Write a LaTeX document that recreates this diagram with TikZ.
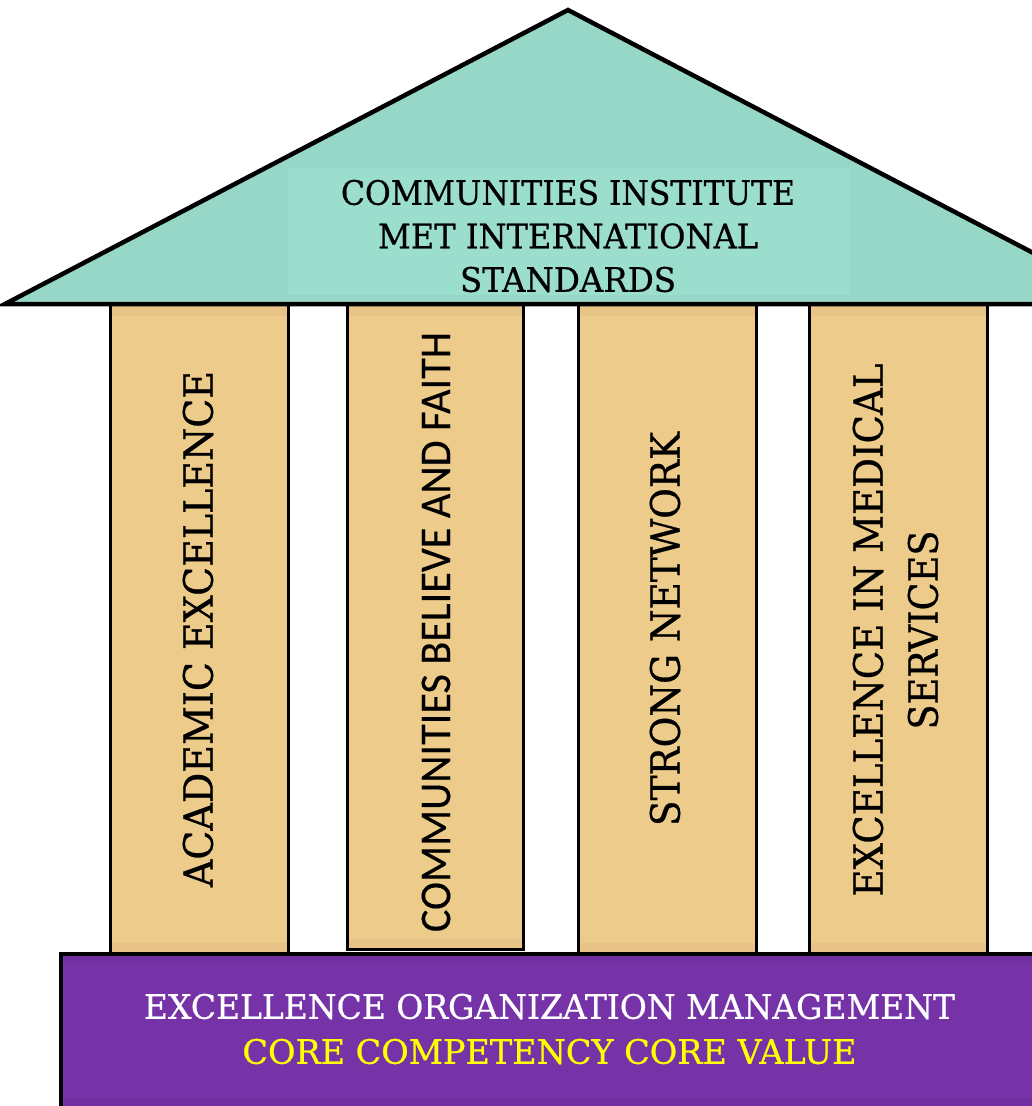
\documentclass[tikz,border=0pt]{standalone}
\usepackage{fontspec}
\setmainfont{DejaVu Serif}[FakeBold=0.7]
\newfontfamily\calibfont{Carlito}[FakeBold=0.3]
\usepackage{graphicx}
\definecolor{roofc}{HTML}{97D7C7}
\definecolor{roofl}{HTML}{9BDECD}
\definecolor{pillc}{HTML}{EDCB8A}
\definecolor{pillb}{HTML}{E8C388}
\definecolor{basec}{HTML}{7633A8}
\definecolor{baseb}{HTML}{7030A0}
\definecolor{yel}{HTML}{FFFF00}
\newcommand{\fitl}[3]{\resizebox{#1pt}{#2pt}{#3}}
\tikzset{
  pillar/.style={fill=pillc, draw=black, line width=3pt},
  band/.style={fill=pillb, draw=none},
  roof/.style={fill=roofc, draw=black, line width=4.5pt, line join=miter},
  basebox/.style={fill=basec, draw=black, line width=4.5pt},
  ptext/.style={rotate=90, inner sep=0pt, anchor=center},
}
\begin{document}
\begin{tikzpicture}[x=1pt,y=-1pt]
\useasboundingbox (0,0) rectangle (1032,1106);
\clip (0,0) rectangle (1032,1106);
% pillars
\foreach \l/\r/\b in {110/288/953, 347/523/949, 578/756/953, 809/987/953}{
  \fill[pillc] (\l,304) rectangle (\r,\b);
  \fill[pillb] (\l+1.5,306) rectangle (\r-1.5,316);
  \fill[pillb] (\l+1.5,\b-10) rectangle (\r-1.5,\b);
  \draw[line width=3pt] (\l,304) -- (\l,\b);
  \draw[line width=3pt] (\r,304) -- (\r,\b);
}
\draw[line width=3pt] (345.5,949) -- (524.5,949);
% base
\draw[basebox] (61,954) rectangle (1045,1120);
\fill[baseb] (63.5,956.5) rectangle (1040,963);
\fill[baseb] (63.5,1098) rectangle (1040,1106);
% roof
\draw[roof] (5,304) -- (568,10) -- (1131,304) -- cycle;
\fill[roofl] (288,168) rectangle (849,295);
% texts
\node[inner sep=0pt, align=center, font=\fontsize{25}{43.5}\selectfont] (roofText) at (568,236)
  {\fitl{454}{25}{COMMUNITIES INSTITUTE}\\ \fitl{380}{25}{MET INTERNATIONAL}\\ \fitl{216}{25}{STANDARDS}};
\node[ptext] (p1) at (198,629) {\fitl{516}{30}{ACADEMIC EXCELLENCE}};
\node[ptext] (p2) at (436,632) {\calibfont\fitl{600}{28.5}{COMMUNITIES BELIEVE AND FAITH}};
\node[ptext] (p3) at (665,629) {\fitl{394}{30}{STRONG NETWORK}};
\node[ptext, align=center, font=\fontsize{30}{55}\selectfont] (p4) at (895.5,630)
  {\fitl{533}{30}{EXCELLENCE IN MEDICAL}\\ \fitl{199}{30}{SERVICES}};
\node[inner sep=0pt, align=center, font=\fontsize{25}{45}\selectfont] (baseText) at (549.5,1029)
  {\textcolor{white}{\fitl{811}{25}{EXCELLENCE ORGANIZATION MANAGEMENT}}\\ \textcolor{yel}{\fitl{614}{25}{CORE COMPETENCY CORE VALUE}}};
\end{tikzpicture}
\end{document}
